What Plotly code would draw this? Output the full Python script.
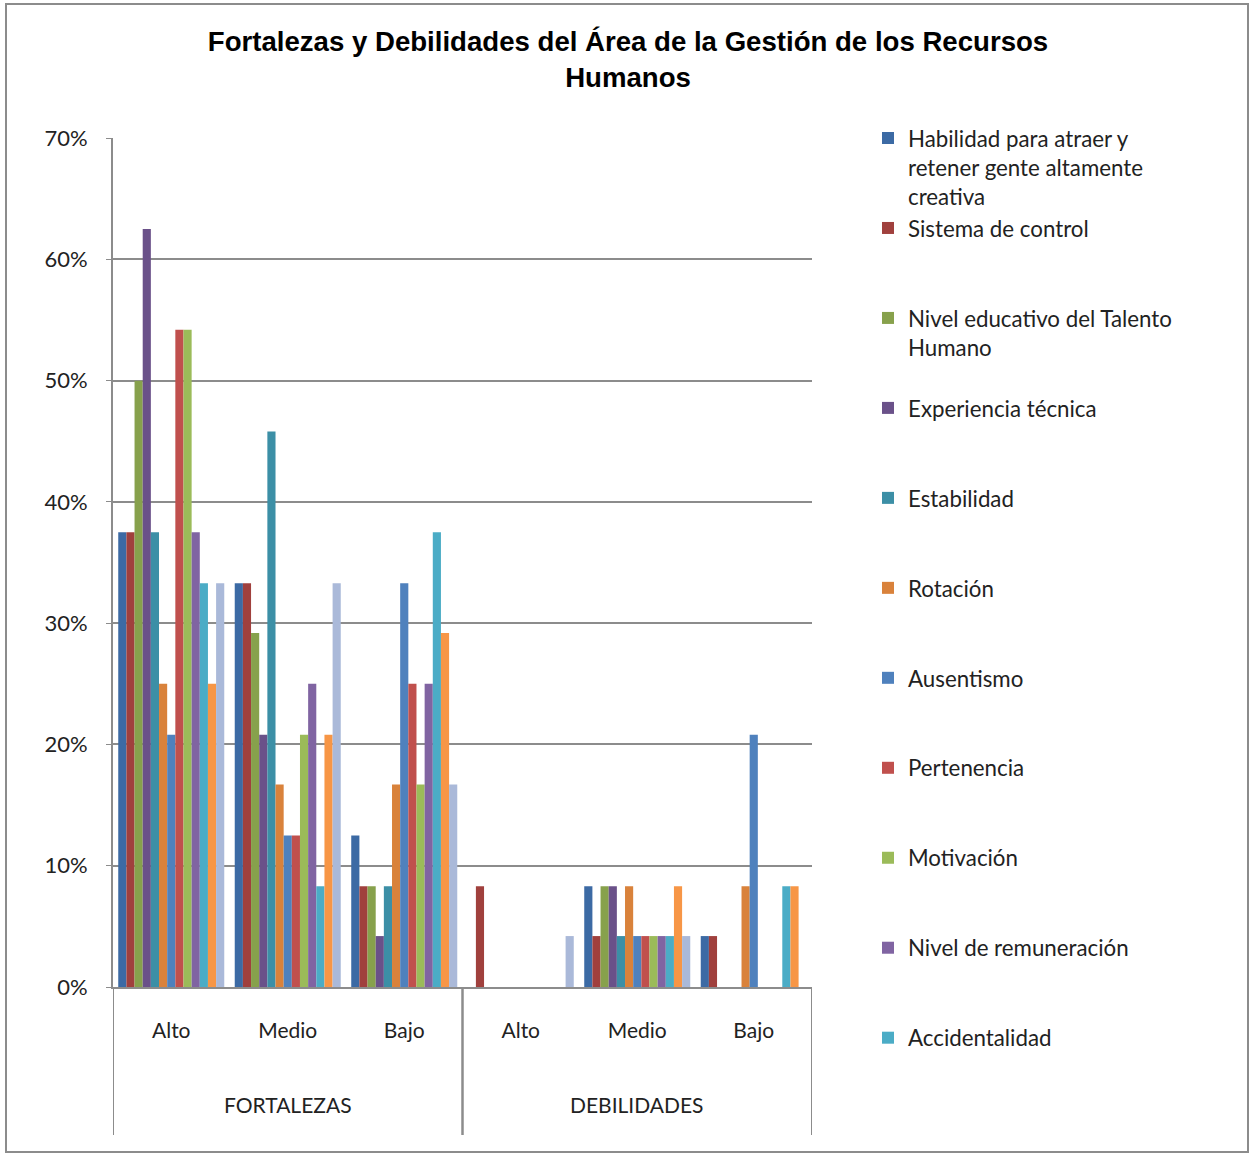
import plotly.graph_objects as go

groups = ["FORTALEZAS", "DEBILIDADES"]
levels = ["Alto", "Medio", "Bajo", "Alto", "Medio", "Bajo"]
group_of_level = [0, 0, 0, 1, 1, 1]

series_names = [
    "Habilidad para atraer y<br>retener gente altamente<br>creativa",
    "Sistema de control",
    "Nivel educativo del Talento<br>Humano",
    "Experiencia técnica",
    "Estabilidad",
    "Rotación",
    "Ausentismo",
    "Pertenencia",
    "Motivación",
    "Nivel de remuneración",
    "Accidentalidad",
    "Serie 12",
    "Serie 13",
]

colors = ["#3C6AA4", "#A0403D", "#87A14C", "#6A5189", "#3C8FA6", "#D9823B",
          "#4F81BD", "#C0504D", "#9BBB59", "#8064A2", "#4BACC6", "#F79646", "#AAB9D9"]

# values per series (fractions), order: F-Alto, F-Medio, F-Bajo, D-Alto, D-Medio, D-Bajo
habilidad      = [0.375, 0.333, 0.125, 0.0,   0.083, 0.042]
sistema        = [0.375, 0.333, 0.083, 0.083, 0.042, 0.042]
nivel_edu      = [0.500, 0.292, 0.083, 0.0,   0.083, 0.0]
experiencia    = [0.625, 0.208, 0.042, 0.0,   0.083, 0.0]
estabilidad    = [0.375, 0.458, 0.083, 0.0,   0.042, 0.0]
rotacion       = [0.250, 0.167, 0.167, 0.0,   0.083, 0.083]
ausentismo     = [0.208, 0.125, 0.333, 0.0,   0.042, 0.208]
pertenencia    = [0.542, 0.125, 0.250, 0.0,   0.042, 0.0]
motivacion     = [0.542, 0.208, 0.167, 0.0,   0.042, 0.0]
remuneracion   = [0.375, 0.250, 0.250, 0.0,   0.042, 0.0]
accidentalidad = [0.333, 0.083, 0.375, 0.0,   0.042, 0.083]
serie12        = [0.250, 0.208, 0.292, 0.0,   0.083, 0.083]
serie13        = [0.333, 0.333, 0.167, 0.042, 0.042, 0.0]

all_values = [habilidad, sistema, nivel_edu, experiencia, estabilidad, rotacion,
              ausentismo, pertenencia, motivacion, remuneracion, accidentalidad,
              serie12, serie13]

font_main = "Lato, 'Open Sans', sans-serif"
GRID = "#8c8c8c"

def pad(name):
    n = name.count("<br>") + 1
    return name + "<br>&nbsp;" * (3 - n)

xpos = list(range(len(levels)))

fig = go.Figure()
for i, (name, vals) in enumerate(zip(series_names, all_values)):
    fig.add_trace(go.Bar(
        x=xpos, y=vals, name=pad(name),
        marker=dict(color=colors[i], line=dict(width=0)),
        showlegend=i < 11,
    ))

W, H = 1256, 1153
L, R, T, B = 113, 444, 138, 166
pw, ph = W - L - R, H - T - B

def px(x):
    return (x - L) / pw

def py(y):
    return (H - B - y) / ph

# group labels and dividers
annotations = []
shapes = []
for g, name in enumerate(groups):
    members = [i for i, gg in enumerate(group_of_level) if gg == g]
    center = sum(members) / len(members)
    annotations.append(dict(
        x=center, xref="x", y=py(1104), yref="paper", text=name, showarrow=False,
        xanchor="center", yanchor="middle",
        font=dict(family=font_main, size=21, color="#222"),
    ))
    for edge in (members[0] - 0.5, members[-1] + 0.5):
        shapes.append(dict(
            type="line", xref="x", yref="paper", x0=edge, x1=edge,
            y0=py(1135), y1=0, line=dict(color=GRID, width=2),
        ))

shapes.append(dict(
    type="rect", xref="paper", yref="paper",
    x0=px(6), x1=px(1248), y0=py(1152), y1=py(4),
    line=dict(color=GRID, width=2), fillcolor="rgba(0,0,0,0)", layer="below",
))

fig.update_layout(
    width=W, height=H,
    margin=dict(l=L, r=R, t=T, b=B),
    paper_bgcolor="white", plot_bgcolor="white",
    barmode="group", bargap=0.09, bargroupgap=0,
    title=dict(
        text="<b>Fortalezas y Debilidades del Área de la Gestión de los Recursos<br>Humanos</b>",
        x=0.5, xanchor="center", xref="container",
        y=1 - 51 / H, yanchor="top",
        font=dict(family="'Liberation Sans', Arial, sans-serif", size=27.6, color="black"),
    ),
    font=dict(family=font_main, size=21, color="#222"),
    legend=dict(
        x=px(868), xanchor="left", y=py(117), yanchor="top",
        font=dict(family=font_main, size=22.3, color="#222"),
        valign="top", traceorder="normal", bgcolor="rgba(0,0,0,0)",
        maxheight=1100,
    ),
    xaxis=dict(
        range=[-0.5, len(levels) - 0.5],
        tickmode="array", tickvals=xpos, ticktext=levels,
        showline=True, linecolor=GRID, linewidth=2,
        tickfont=dict(family=font_main, size=21, color="#222"),
        ticks="", showgrid=False, ticklabelstandoff=24, zeroline=False,
    ),
    yaxis=dict(
        range=[0, 0.7001], dtick=0.1, tickformat=".0%",
        showgrid=True, gridcolor=GRID, gridwidth=2,
        showline=True, linecolor=GRID, linewidth=2,
        ticks="outside", ticklen=5, tickcolor=GRID,
        ticklabelstandoff=14,
        tickfont=dict(family=font_main, size=22, color="#222"),
        zeroline=False,
    ),
    annotations=annotations,
    shapes=shapes,
)

fig.write_html("out.html")
